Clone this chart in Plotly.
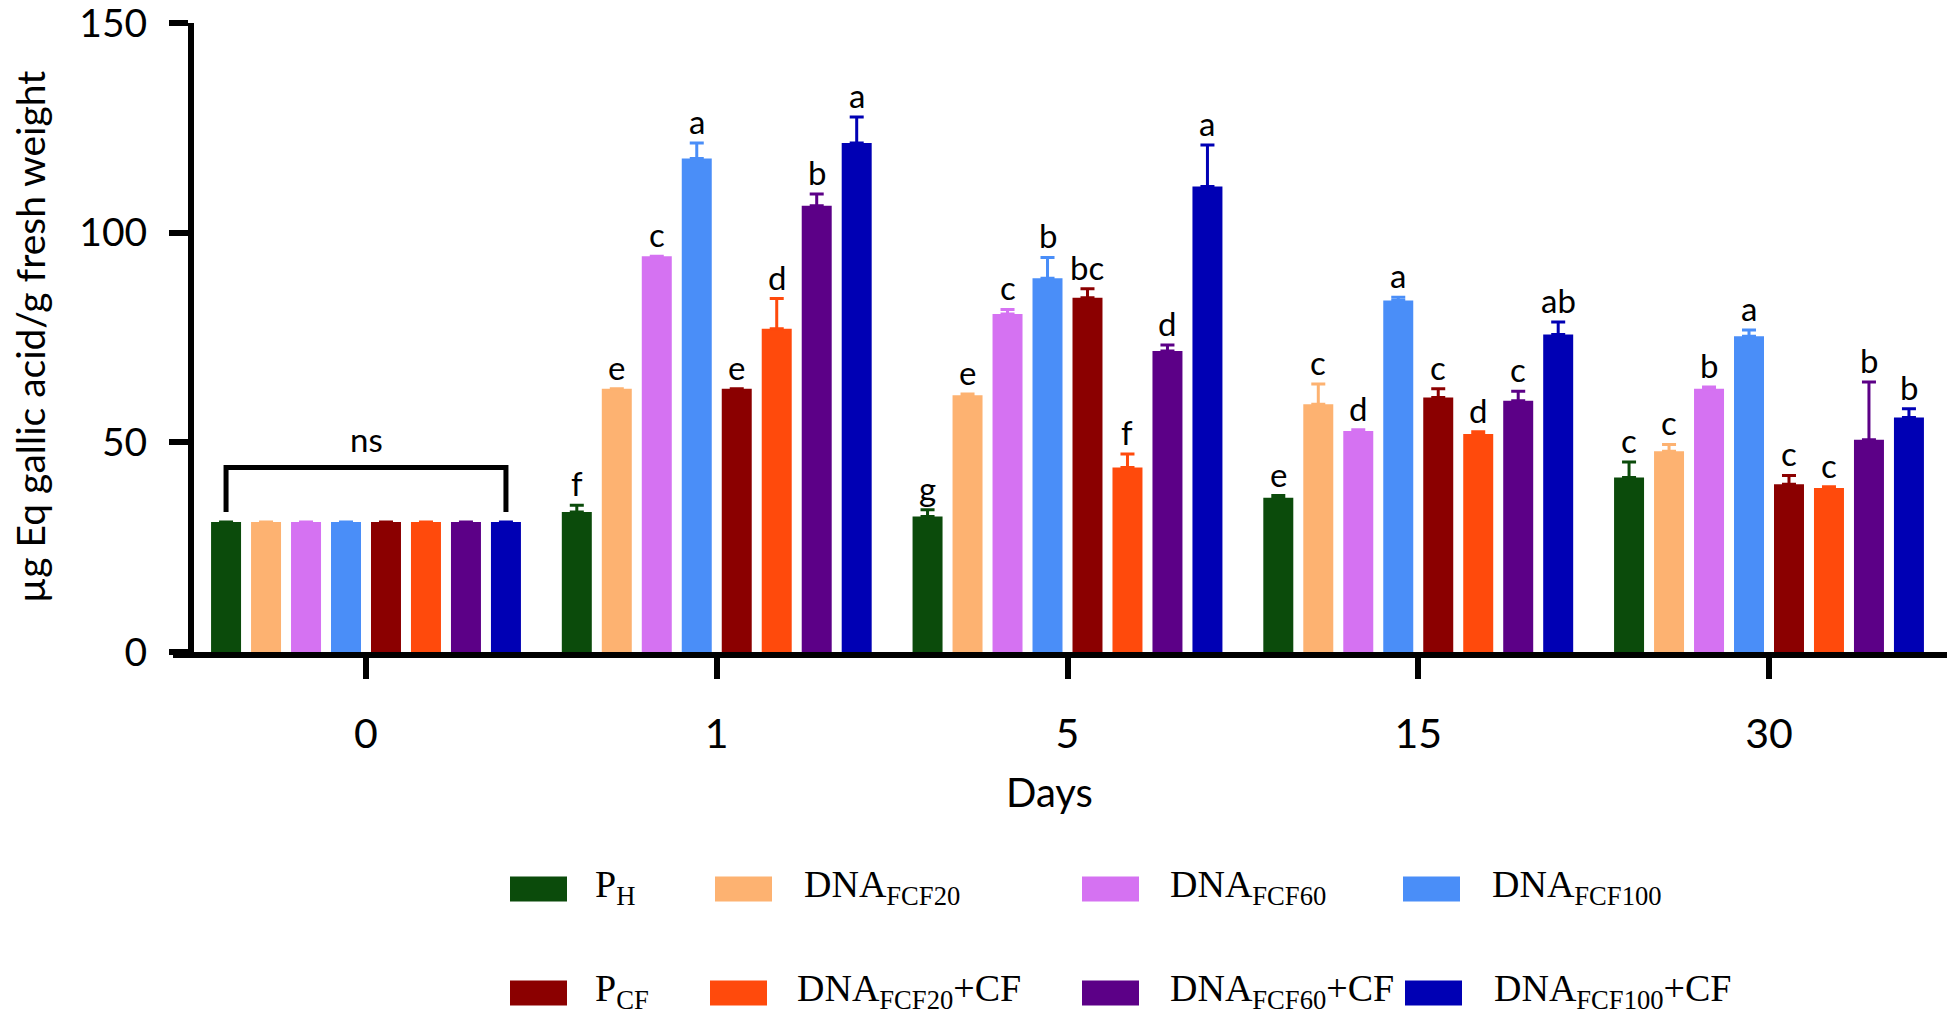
import plotly.graph_objects as go

# ---------------- data ----------------
days = ["0", "1", "5", "15", "30"]
series_names = ["P<sub>H</sub>", "DNA<sub>FCF20</sub>", "DNA<sub>FCF60</sub>", "DNA<sub>FCF100</sub>",
                "P<sub>CF</sub>", "DNA<sub>FCF20</sub>+CF", "DNA<sub>FCF60</sub>+CF", "DNA<sub>FCF100</sub>+CF"]
colors = ["#0B4B0B", "#FDB271", "#D572F2", "#4A8EF8", "#8B0000", "#FF4A0C", "#5C0087", "#0000B4"]

# mean values per series, one value per day (0, 1, 5, 15, 30)
P_H        = [31.0, 33.4, 32.3, 36.8, 41.6]
DNA_20     = [31.0, 62.8, 61.2, 59.1, 47.9]
DNA_60     = [31.0, 94.4, 80.6, 52.7, 62.8]
DNA_100    = [31.0, 117.7, 89.1, 83.8, 75.3]
P_CF       = [31.0, 62.8, 84.5, 60.7, 40.0]
DNA_20_CF  = [31.0, 77.1, 44.0, 52.0, 39.1]
DNA_60_CF  = [31.0, 106.4, 71.8, 59.9, 50.6]
DNA_100_CF = [31.0, 121.4, 111.0, 75.7, 55.9]

# upper error (SD) per series
err_P_H        = [0.0, 1.6, 1.6, 0.5, 3.7]
err_DNA_20     = [0.0, 0.0, 0.3, 4.8, 1.6]
err_DNA_60     = [0.0, 0.0, 1.1, 0.3, 0.4]
err_DNA_100    = [0.0, 3.7, 5.0, 0.8, 1.5]
err_P_CF       = [0.0, 0.0, 2.1, 2.1, 2.1]
err_DNA_20_CF  = [0.0, 7.2, 3.2, 0.5, 0.3]
err_DNA_60_CF  = [0.0, 2.8, 1.4, 2.3, 13.8]
err_DNA_100_CF = [0.0, 6.2, 9.9, 3.0, 2.1]

# significance letters (day 0 is "ns")
let_P_H        = ["", "f", "g", "e", "c"]
let_DNA_20     = ["", "e", "e", "c", "c"]
let_DNA_60     = ["", "c", "c", "d", "b"]
let_DNA_100    = ["", "a", "b", "a", "a"]
let_P_CF       = ["", "e", "bc", "c", "c"]
let_DNA_20_CF  = ["", "d", "f", "d", "c"]
let_DNA_60_CF  = ["", "b", "d", "c", "b"]
let_DNA_100_CF = ["", "a", "a", "ab", "b"]

values = [P_H, DNA_20, DNA_60, DNA_100, P_CF, DNA_20_CF, DNA_60_CF, DNA_100_CF]
errors = [err_P_H, err_DNA_20, err_DNA_60, err_DNA_100, err_P_CF, err_DNA_20_CF, err_DNA_60_CF, err_DNA_100_CF]
letters = [let_P_H, let_DNA_20, let_DNA_60, let_DNA_100, let_P_CF, let_DNA_20_CF, let_DNA_60_CF, let_DNA_100_CF]

y_ticks = [0, 50, 100, 150]
ns_low, ns_high = 33.4, 44.0

# ---------------- layout constants ----------------
W, H = 1953, 1020
Y_TOP = 150.0
px_per_unit_y = (652 - 23) / 150.0
L = 194
T = 652 - Y_TOP * px_per_unit_y
R = 6
B = H - 652
PW, PH = W - L - R, H - T - B
px_per_unit_x = 350.75
x_lo = -(366 - L) / px_per_unit_x
x_hi = x_lo + PW / px_per_unit_x

BARGAP = 0.088
BARGROUPGAP = 0.25
n = len(values)
slot = (1 - BARGAP) / n
xpos = list(range(len(days)))

def px_x(px):   # page pixel -> paper x
    return (px - L) / PW

def px_y(py):   # page pixel -> paper y
    return (H - B - py) / PH

FONT = "Lato"
fig = go.Figure()

for i in range(n):
    fig.add_trace(go.Bar(
        x=xpos, y=values[i], name=series_names[i],
        marker=dict(color=colors[i], line=dict(width=0)),
        error_y=dict(type="data", array=errors[i], arrayminus=[0] * len(days),
                     symmetric=False, color=colors[i], thickness=3, width=7),
        showlegend=False,
    ))

annotations = []
# letters above bars
for i in range(n):
    for d in range(len(days)):
        if letters[i][d]:
            annotations.append(dict(
                x=xpos[d] + (i - (n - 1) / 2) * slot, y=values[i][d] + errors[i][d],
                xref="x", yref="y", text=letters[i][d], showarrow=False,
                yanchor="bottom", xanchor="center",
                font=dict(family=FONT, size=33, color="black")))

# ns bracket over day 0
x_first = xpos[0] + (0 - (n - 1) / 2) * slot
x_last = xpos[0] + ((n - 1) - (n - 1) / 2) * slot
shapes = [dict(type="path",
               path=f"M {x_first} {ns_low} L {x_first} {ns_high} L {x_last} {ns_high} L {x_last} {ns_low}",
               xref="x", yref="y", line=dict(color="black", width=5))]
annotations.append(dict(x=xpos[0], y=ns_high + 1.5, xref="x", yref="y", text="ns",
                        showarrow=False, yanchor="bottom", xanchor="center",
                        font=dict(family=FONT, size=33, color="black")))

# x-axis extension to the left of the y-axis
shapes.append(dict(type="line", xref="paper", yref="paper",
                   x0=px_x(173), x1=0, y0=px_y(655), y1=px_y(655),
                   line=dict(color="black", width=6)))

# axis titles
annotations.append(dict(x=px_x(30), y=px_y(337), xref="paper", yref="paper",
                        text="µg Eq gallic acid/g fresh weight", textangle=-90,
                        showarrow=False, xanchor="center", yanchor="middle",
                        font=dict(family=FONT, size=39, color="black")))
annotations.append(dict(x=px_x(1049), y=px_y(792), xref="paper", yref="paper",
                        text="Days", showarrow=False, xanchor="center", yanchor="middle",
                        font=dict(family=FONT, size=40, color="black")))

# custom legend (two rows)
leg_marker_x = [510, 715, 1082, 1403, 510, 710, 1082, 1405]
leg_text_x = [593, 802, 1168, 1490, 593, 795, 1168, 1492]
leg_row_y = [889, 889, 889, 889, 993, 993, 993, 993]
MW, MH = 57, 25
for i in range(n):
    shapes.append(dict(type="rect", xref="paper", yref="paper",
                       x0=px_x(leg_marker_x[i]), x1=px_x(leg_marker_x[i] + MW),
                       y0=px_y(leg_row_y[i] + MH / 2), y1=px_y(leg_row_y[i] - MH / 2),
                       fillcolor=colors[i], line=dict(width=0)))
    annotations.append(dict(x=px_x(leg_text_x[i]), y=px_y(leg_row_y[i]), xref="paper", yref="paper",
                            text=series_names[i], showarrow=False, xanchor="left", yanchor="middle",
                            yshift=2,
                            font=dict(family="Liberation Serif", size=38, color="black")))

fig.update_layout(
    width=W, height=H,
    margin=dict(l=L, r=R, t=T, b=B, pad=0, autoexpand=False),
    paper_bgcolor="white", plot_bgcolor="white",
    barmode="group", bargap=BARGAP, bargroupgap=BARGROUPGAP,
    font=dict(family=FONT, color="black"),
    shapes=shapes, annotations=annotations,
)
fig.update_xaxes(
    range=[x_lo, x_hi],
    tickmode="array", tickvals=xpos, ticktext=days,
    showline=True, linecolor="black", linewidth=6,
    ticks="outside", ticklen=21, tickwidth=6, tickcolor="black",
    ticklabelstandoff=20, ticklabeloverflow="allow",
    tickfont=dict(family=FONT, size=41, color="black"),
    showgrid=False, zeroline=False,
)
fig.update_yaxes(
    range=[0, Y_TOP], tickmode="array", tickvals=y_ticks,
    showline=True, linecolor="black", linewidth=6,
    ticks="outside", ticklen=19, tickwidth=6, tickcolor="black",
    ticklabelstandoff=14, ticklabeloverflow="allow",
    tickfont=dict(family=FONT, size=39, color="black"),
    showgrid=False, zeroline=False,
)

# remove the browser's default 8px body margin so the figure fills the window exactly
fig.write_html("out.html", config={"displayModeBar": False},
               post_script="document.body.style.margin='0';document.body.style.overflow='hidden';")
